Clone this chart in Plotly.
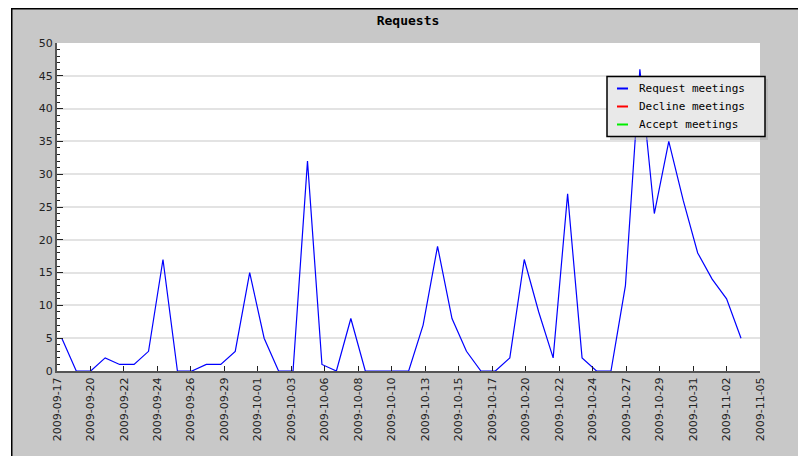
import plotly.graph_objects as go
import pandas as pd

dates = [
    "2009-09-17", "2009-09-18", "2009-09-19", "2009-09-20", "2009-09-21", "2009-09-22",
    "2009-09-23", "2009-09-24", "2009-09-25", "2009-09-26", "2009-09-27", "2009-09-28",
    "2009-09-29", "2009-09-30", "2009-10-01", "2009-10-02", "2009-10-03", "2009-10-04",
    "2009-10-05", "2009-10-06", "2009-10-07", "2009-10-08", "2009-10-09", "2009-10-10",
    "2009-10-11", "2009-10-12", "2009-10-13", "2009-10-14", "2009-10-15", "2009-10-16",
    "2009-10-17", "2009-10-18", "2009-10-19", "2009-10-20", "2009-10-21", "2009-10-22",
    "2009-10-23", "2009-10-24", "2009-10-25", "2009-10-26", "2009-10-27", "2009-10-28",
    "2009-10-29", "2009-10-30", "2009-10-31", "2009-11-01", "2009-11-02", "2009-11-03",
]
request_meetings = [
    5, 0, 0, 2, 1, 1, 3, 17, 0, 0, 1, 1, 3, 15, 5, 0, 0, 32, 1, 0, 8, 0, 0, 0,
    0, 7, 19, 8, 3, 0, 0, 2, 17, 9, 2, 27, 2, 0, 0, 13, 46, 24, 35, 26, 18, 14, 11, 5,
]
# no data points are drawn for these two series (legend entries only)
decline_meetings = [None]
accept_meetings = [None]

series_names = ["Request meetings", "Decline meetings", "Accept meetings"]
series_colors = ["#0000ff", "#ff0000", "#00ee00"]

tick_labels = [
    "2009-09-17", "2009-09-20", "2009-09-22", "2009-09-24", "2009-09-26", "2009-09-29",
    "2009-10-01", "2009-10-03", "2009-10-06", "2009-10-08", "2009-10-10", "2009-10-13",
    "2009-10-15", "2009-10-17", "2009-10-20", "2009-10-22", "2009-10-24", "2009-10-27",
    "2009-10-29", "2009-10-31", "2009-11-02", "2009-11-05",
]

OFF = 8  # page body margin of the html page
W, H = 806 - OFF, 456 - OFF
L = 57 - OFF
T = 43 - OFF
R = W - (760 - OFF)
B = H - (371 - OFF)
PW, PH = W - L - R, H - T - B


def px2x(sx):
    return (sx - OFF - L) / PW


def py2y(sy):
    return (H - B - (sy - OFF)) / PH


x_start = pd.Timestamp(dates[0]) - pd.Timedelta(hours=8)
x_end = pd.Timestamp(dates[-1]) + pd.Timedelta(hours=31.5)
n = len(tick_labels) - 1
tickvals = [(x_start + (x_end - x_start) * k / n).strftime("%Y-%m-%d %H:%M:%S") for k in range(n + 1)]

fig = go.Figure()
for name, color, values in zip(series_names, series_colors,
                               [request_meetings, decline_meetings, accept_meetings]):
    fig.add_trace(go.Scatter(x=dates[:len(values)], y=values, mode="lines", name=name,
                             line=dict(color=color, width=1.2), showlegend=False))

tickfont = dict(family="DejaVu Sans", size=11, color="#222222")

shapes = [
    # white page strip left of the framed chart image
    dict(type="rect", xref="paper", yref="paper", x0=px2x(0), x1=px2x(11), y0=py2y(H + OFF + 5), y1=py2y(0),
         fillcolor="white", line=dict(width=0), layer="above"),
    # frame border
    dict(type="line", xref="paper", yref="paper", x0=px2x(11), x1=px2x(W + OFF + 5), y0=py2y(8.75), y1=py2y(8.75),
         line=dict(color="black", width=1.5), layer="above"),
    dict(type="line", xref="paper", yref="paper", x0=px2x(11.75), x1=px2x(11.75), y0=py2y(8), y1=py2y(H + OFF + 5),
         line=dict(color="black", width=1.5), layer="above"),
    # legend shadow and box
    dict(type="rect", xref="paper", yref="paper", x0=px2x(610), x1=px2x(768), y0=py2y(140), y1=py2y(79),
         fillcolor="#aaaaaa", opacity=0.5, line=dict(width=0), layer="above"),
    dict(type="rect", xref="paper", yref="paper", x0=px2x(607), x1=px2x(765), y0=py2y(136.5), y1=py2y(76.5),
         fillcolor="#e9e9e9", line=dict(color="black", width=1.5), layer="above"),
]
annotations = []
row_y = [88.5, 106.5, 124.5]
for name, color, ry in zip(series_names, series_colors, row_y):
    shapes.append(dict(type="line", xref="paper", yref="paper", x0=px2x(617), x1=px2x(628),
                       y0=py2y(ry), y1=py2y(ry), line=dict(color=color, width=2), layer="above"))
    annotations.append(dict(text=name, xref="paper", yref="paper", x=px2x(637), y=py2y(ry),
                            xanchor="left", yanchor="middle", showarrow=False,
                            font=dict(family="DejaVu Sans Mono", size=11, color="black")))

fig.update_layout(
    width=W, height=H,
    margin=dict(l=L, r=R, t=T, b=B, pad=0),
    paper_bgcolor="#c8c8c8",
    plot_bgcolor="white",
    title=dict(text="<b>Requests</b>", x=(408 - OFF) / W, xanchor="center", y=1 - (20 - OFF) / H, yanchor="middle",
               font=dict(family="DejaVu Sans Mono", size=13, color="black")),
    showlegend=False,
    shapes=shapes,
    annotations=annotations,
    xaxis=dict(
        type="date", range=[x_start.strftime("%Y-%m-%d %H:%M:%S"), x_end.strftime("%Y-%m-%d %H:%M:%S")],
        tickmode="array", tickvals=tickvals, ticktext=tick_labels, tickangle=-90,
        ticks="inside", ticklen=5, tickcolor="#222222", tickwidth=1,
        showgrid=False, zeroline=False,
        showline=True, linecolor="#555555", linewidth=2,
        tickfont=tickfont, fixedrange=True,
    ),
    yaxis=dict(
        range=[0, 50], tickmode="linear", tick0=0, dtick=5,
        ticks="inside", ticklen=6, tickcolor="#222222", tickwidth=1,
        minor=dict(ticks="inside", ticklen=3, dtick=1, tickcolor="#222222", tickwidth=1, showgrid=False),
        showgrid=True, gridcolor="#e3e3e3", gridwidth=1.5, zeroline=False,
        showline=True, linecolor="#555555", linewidth=2,
        tickfont=tickfont, fixedrange=True,
    ),
)

fig.write_html("out.html")
